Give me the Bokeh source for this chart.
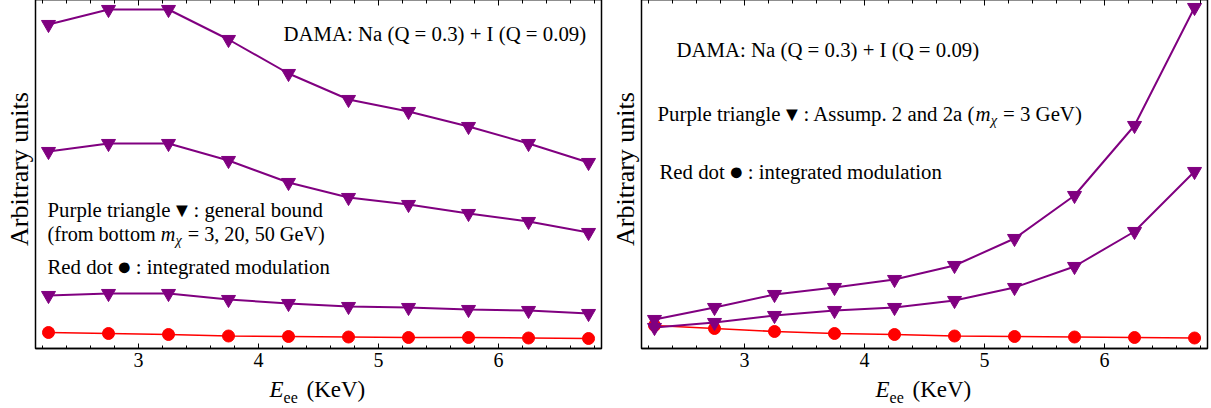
import numpy as np
from bokeh.plotting import figure
from bokeh.models import (Range1d, LinearAxis, SingleIntervalTicker, Label,
                          CustomLabelingPolicy)
from bokeh.layouts import row, column
from bokeh.embed import file_html
from bokeh.resources import INLINE

# ---------------- data (arbitrary units) ----------------
energy = [2.25, 2.75, 3.25, 3.75, 4.25, 4.75, 5.25, 5.75, 6.25, 6.75]
x_tick_step = 1
x_minor_per_major = 5

left_m50 = [3.24, 3.39, 3.39, 3.09, 2.75, 2.49, 2.37, 2.22, 2.05, 1.86]
left_m20 = [1.97, 2.05, 2.05, 1.88, 1.66, 1.51, 1.44, 1.35, 1.27, 1.16]
left_m3 = [0.53, 0.55, 0.55, 0.49, 0.45, 0.42, 0.41, 0.39, 0.38, 0.35]
left_mod = [0.16, 0.15, 0.14, 0.125, 0.12, 0.115, 0.11, 0.11, 0.105, 0.10]

right_assump2 = [0.29, 0.41, 0.54, 0.61, 0.69, 0.83, 1.10, 1.53, 2.23, 3.41]
right_assump2a = [0.21, 0.26, 0.33, 0.38, 0.41, 0.48, 0.61, 0.82, 1.17, 1.77]
right_mod = [0.23, 0.20, 0.17, 0.15, 0.14, 0.125, 0.12, 0.115, 0.11, 0.105]

dama_text = "DAMA: Na (Q = 0.3) + I (Q = 0.09)"
y_label = "Arbitrary units"

# ---------------- style ----------------
FONT = "Liberation Serif"
PURPLE = "#800080"
RED = "#ff0000"
S = 20.8
FB = 348  # frame bottom (page px)
X_LO, X_HI = 2.1417, 6.858
Y_LO, Y_HI = 0.0, 3.49
TOP_PAD = 5
CANVAS_TOP = -1 - TOP_PAD

REG_W = {' ': .25, '(': .333, ')': .333, '+': .564, ',': .25, '.': .25, ':': .278, '=': .564,
         'A': .722, 'D': .722, 'E': .611, 'G': .722, 'I': .333, 'K': .722, 'M': .889, 'N': .722,
         'P': .556, 'Q': .722, 'R': .667, 'V': .722,
         'a': .444, 'b': .5, 'd': .5, 'e': .444, 'f': .333, 'g': .5, 'i': .278, 'l': .278, 'm': .778,
         'n': .5, 'o': .5, 'p': .5, 'r': .333, 's': .389, 't': .278, 'u': .5, 'y': .5}
for d in "0123456789":
    REG_W[d] = .5
ITA_W = {'E': .611, 'm': .722, 'χ': .5, 'e': .444}


def tw(s, size, style):
    table = ITA_W if style == "italic" else REG_W
    return sum(table.get(c, REG_W.get(c, .5)) for c in s) * size


def add_runs(p, OL, OB, X, Y, runs):
    """Place text runs starting at page x=X, baseline page y=Y.
    OL/OB: page coords of the left/bottom of the label's reference box.
    run = (text, size, style, dy[, advance]) ; runs with an advance are centred symbols."""
    x = X
    for run in runs:
        text, size, style, dy = run[:4]
        adv = run[4] if len(run) > 4 else None
        stripped = text.lstrip(" ")
        x += (len(text) - len(stripped)) * 0.25 * S
        if adv is None:
            yc = Y + dy - 0.3375 * size
            xa, align = x, "left"
            x_next = x + tw(stripped, size, style)
        else:
            yc = Y + dy
            xa, align = x + adv / 2, "center"
            x_next = x + adv
        p.add_layout(Label(x=xa - OL, y=OB - yc, x_units="screen", y_units="screen",
                           text=stripped.rstrip(" "), text_font=FONT, text_font_size=f"{size}px",
                           text_font_style=style, text_color="black",
                           text_baseline="middle", text_align=align))
        x = x_next


def blank_fig(width, height):
    f = figure(width=width, height=height, output_backend="svg", toolbar_location=None,
               x_axis_location=None, y_axis_location=None,
               min_border_left=0, min_border_right=0, min_border_top=0, min_border_bottom=0)
    f.xgrid.visible = False
    f.ygrid.visible = False
    f.outline_line_color = None
    f.background_fill_color = "white"
    f.border_fill_color = "white"
    return f


def make_panel(width, br):
    p = figure(width=width, height=378 - CANVAS_TOP, x_range=Range1d(X_LO, X_HI),
               y_range=Range1d(Y_LO, Y_HI),
               output_backend="svg", toolbar_location=None, y_axis_location=None,
               min_border_left=1, min_border_right=br, min_border_top=TOP_PAD, min_border_bottom=30)
    p.xgrid.visible = False
    p.ygrid.visible = False
    p.outline_line_color = "black"
    p.outline_line_width = 1.5
    p.outline_line_alpha = 1
    p.background_fill_color = "white"
    p.border_fill_color = "white"

    ax = p.xaxis[0]
    ax.ticker = SingleIntervalTicker(interval=x_tick_step, num_minor_ticks=x_minor_per_major)
    ax.major_label_text_font = FONT
    ax.major_label_text_font_size = "20px"
    ax.major_label_text_color = "black"
    ax.major_label_standoff = 4
    ax.major_tick_in = 5
    ax.major_tick_out = 0
    ax.minor_tick_in = 3
    ax.minor_tick_out = 0
    ax.axis_line_color = "black"
    ax.axis_line_width = 1.5
    ax.major_tick_line_color = "black"
    ax.minor_tick_line_color = "black"

    # top frame ticks, no labels (labeling policy drops every label)
    top = LinearAxis(ticker=SingleIntervalTicker(interval=x_tick_step, num_minor_ticks=x_minor_per_major),
                     major_label_policy=CustomLabelingPolicy(
                         code="for (const i of indices) { indices.unset(i) }"),
                     major_label_text_font_size="1px", major_label_standoff=0,
                     major_tick_in=6, major_tick_out=0, minor_tick_in=4, minor_tick_out=0,
                     axis_line_color="black", axis_line_width=1.5,
                     major_tick_line_color="black", minor_tick_line_color="black")
    p.add_layout(top, "above")
    return p


def series(p, y, color, marker, size, lw):
    p.line(energy, y, line_color=color, line_width=lw)
    p.scatter(energy, y, marker=marker, size=size, fill_color=color, line_color=color)


def x_title(width, canvas_left, frame_left):
    f = blank_fig(width, 29)
    # canvas spans page y 378..407
    add_runs(f, canvas_left, 407, frame_left + 233, 397,
             [("E", 23, "italic", 0), ("ee", 16, "normal", 5)])
    add_runs(f, canvas_left, 407, frame_left + 270, 397, [("(KeV)", 23, "normal", 0)])
    return f


def y_title(width, xc):
    f = blank_fig(width, 378 - CANVAS_TOP)
    # canvas spans page y CANVAS_TOP..378
    f.add_layout(Label(x=xc, y=378 - 168.5, x_units="screen", y_units="screen", text=y_label,
                       angle=np.pi / 2, text_font=FONT, text_font_size="26px", text_color="black",
                       text_align="center", text_baseline="middle"))
    return f


TRI = ("▼", 20, "normal", -7, 12.5)
DOT = ("●", 25, "normal", -7, 12.6)

# ---------------- left panel ----------------
FL1 = 35
p1 = make_panel(574, 7)
series(p1, left_mod, RED, "circle", 12, 1.5)
series(p1, left_m3, PURPLE, "inverted_triangle", 14, 2)
series(p1, left_m20, PURPLE, "inverted_triangle", 14, 2)
series(p1, left_m50, PURPLE, "inverted_triangle", 14, 2)
add_runs(p1, FL1, FB, 283, 40, [(dama_text, S, "normal", 0)])
add_runs(p1, FL1, FB, 47, 216, [("Purple triangle ", S, "normal", 0), TRI,
                                (" : general bound", S, "normal", 0)])
add_runs(p1, FL1, FB, 47, 240, [("(from bottom ", 20.2, "normal", 0), ("m", 20.2, "italic", 0),
                                ("χ", 14.2, "italic", 4), (" = 3, 20, 50 GeV)", 20.2, "normal", 0)])
add_runs(p1, FL1, FB, 47, 273, [("Red dot ", S, "normal", 0), DOT,
                                (" : integrated modulation", S, "normal", 0)])

# ---------------- right panel ----------------
FL2 = 641
p2 = make_panel(571, 4)
series(p2, right_mod, RED, "circle", 12, 1.5)
series(p2, right_assump2a, PURPLE, "inverted_triangle", 14, 2)
series(p2, right_assump2, PURPLE, "inverted_triangle", 14, 2)
add_runs(p2, FL2, FB, 676, 56, [(dama_text, S, "normal", 0)])
add_runs(p2, FL2, FB, 657, 120, [("Purple triangle ", S, "normal", 0), TRI,
                                 (" : Assump. 2 and 2a (", S, "normal", 0), ("m", S, "italic", 0),
                                 ("χ", 14.5, "italic", 4), (" = 3 GeV)", S, "normal", 0)])
add_runs(p2, FL2, FB, 659, 178, [("Red dot ", S, "normal", 0), DOT,
                                 (" : integrated modulation", S, "normal", 0)])

layout = row(
    y_title(34, 19),
    column(p1, x_title(574, 34, FL1)),
    y_title(32, 17),
    column(p2, x_title(571, 640, FL2)),
    margin=(CANVAS_TOP, 0, 0, 0),
)
open("out.html", "w").write(file_html(layout, INLINE))
